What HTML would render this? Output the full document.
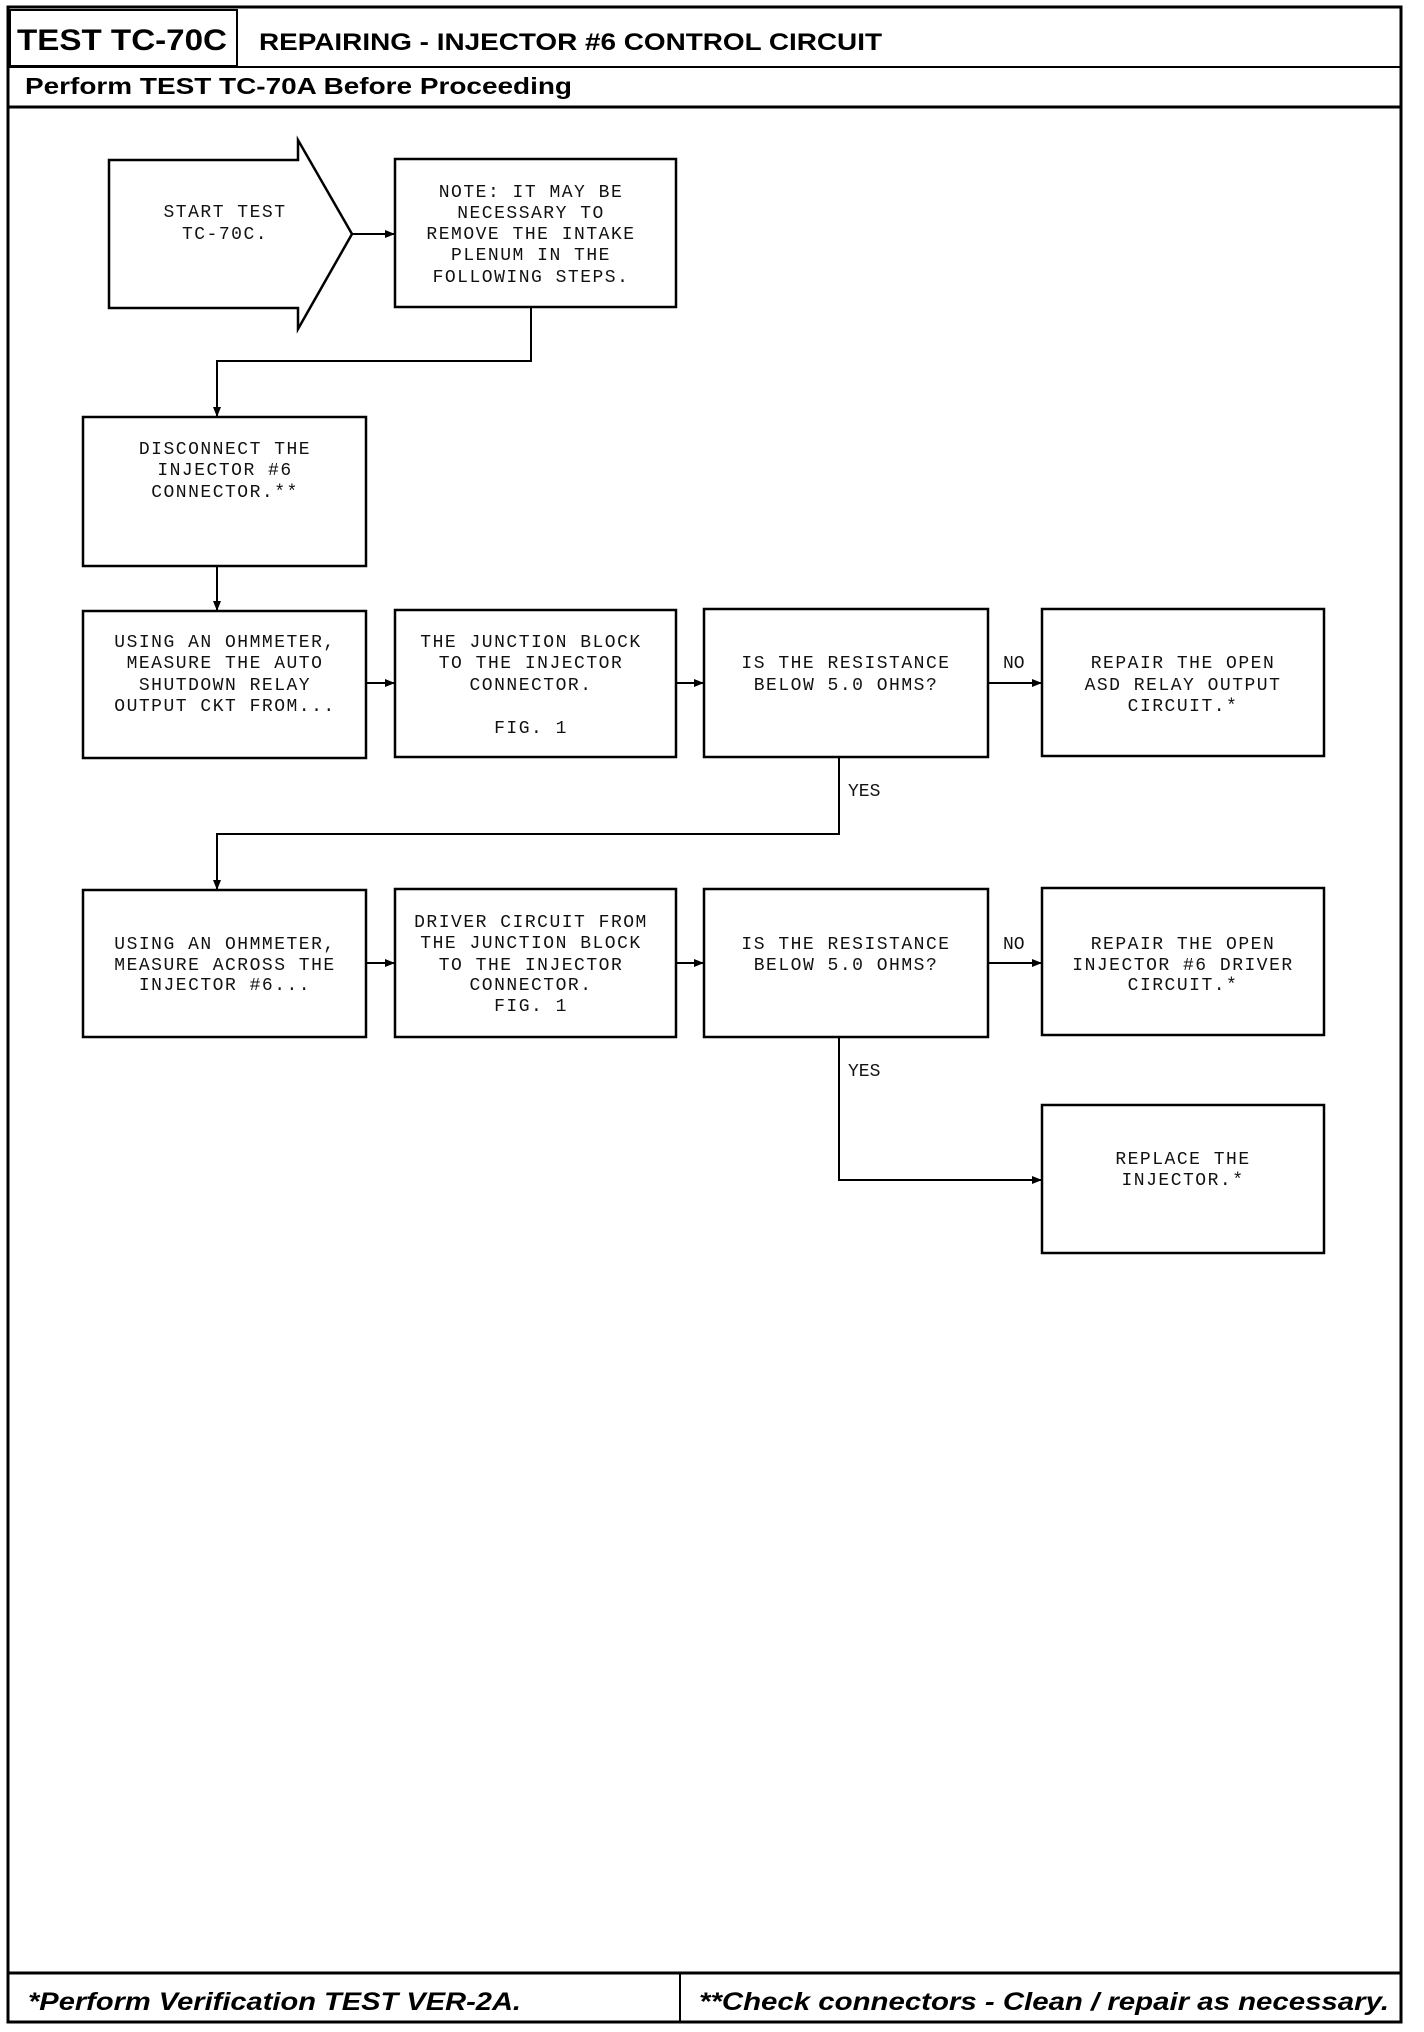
<!DOCTYPE html>
<html><head><meta charset="utf-8"><style>
html,body{margin:0;padding:0;background:#fff;}
svg{display:block;}
.b{font-family:"Liberation Sans",sans-serif;font-weight:bold;fill:#000;}
.m{font-family:"Liberation Mono",monospace;font-size:18px;fill:#111;text-anchor:middle;letter-spacing:1.5px;}
.l{font-family:"Liberation Mono",monospace;font-size:18px;fill:#111;}
</style></head><body>
<svg width="1424" height="2032" viewBox="0 0 1424 2032" xmlns="http://www.w3.org/2000/svg">
<defs><marker id="a" markerWidth="10" markerHeight="8" refX="9" refY="4" orient="auto" markerUnits="userSpaceOnUse"><path d="M0,0 L10,4 L0,8 z" fill="#000"/></marker></defs>
<g fill="none" stroke="#000">
<rect x="8" y="7" width="1393" height="2015" stroke-width="3"/>
<rect x="10" y="10" width="227" height="56" stroke-width="2"/>
<line x1="8" y1="67" x2="1401" y2="67" stroke-width="2"/>
<line x1="8" y1="107" x2="1401" y2="107" stroke-width="3"/>
<line x1="8" y1="1973" x2="1401" y2="1973" stroke-width="3"/>
<line x1="680" y1="1973" x2="680" y2="2022" stroke-width="2"/>
<polygon points="109,160 298,160 298,140 352,234 298,329 298,308 109,308" stroke-width="2.5"/>
<rect x="395" y="159" width="281" height="148" stroke-width="2.5"/>
<rect x="83" y="417" width="283" height="149" stroke-width="2.5"/>
<rect x="83" y="611" width="283" height="147" stroke-width="2.5"/>
<rect x="395" y="610" width="281" height="147" stroke-width="2.5"/>
<rect x="704" y="609" width="284" height="148" stroke-width="2.5"/>
<rect x="1042" y="609" width="282" height="147" stroke-width="2.5"/>
<rect x="83" y="890" width="283" height="147" stroke-width="2.5"/>
<rect x="395" y="889" width="281" height="148" stroke-width="2.5"/>
<rect x="704" y="889" width="284" height="148" stroke-width="2.5"/>
<rect x="1042" y="888" width="282" height="147" stroke-width="2.5"/>
<rect x="1042" y="1105" width="282" height="148" stroke-width="2.5"/>
<g stroke-width="2">
<line x1="352" y1="234" x2="394" y2="234" marker-end="url(#a)"/>
<polyline points="531,307 531,361 217,361 217,416" marker-end="url(#a)"/>
<line x1="217" y1="566" x2="217" y2="610" marker-end="url(#a)"/>
<line x1="366" y1="683" x2="394" y2="683" marker-end="url(#a)"/>
<line x1="676" y1="683" x2="703" y2="683" marker-end="url(#a)"/>
<line x1="988" y1="683" x2="1041" y2="683" marker-end="url(#a)"/>
<polyline points="839,757 839,834 217,834 217,889" marker-end="url(#a)"/>
<line x1="366" y1="963" x2="394" y2="963" marker-end="url(#a)"/>
<line x1="676" y1="963" x2="703" y2="963" marker-end="url(#a)"/>
<line x1="988" y1="963" x2="1041" y2="963" marker-end="url(#a)"/>
<polyline points="839,1037 839,1180 1041,1180" marker-end="url(#a)"/>
</g>
</g>
<text class="b" x="17" y="50" font-size="30" textLength="210" lengthAdjust="spacingAndGlyphs">TEST TC-70C</text>
<text class="b" x="259" y="50" font-size="24" textLength="623" lengthAdjust="spacingAndGlyphs">REPAIRING - INJECTOR #6 CONTROL CIRCUIT</text>
<text class="b" x="25" y="94" font-size="23" textLength="547" lengthAdjust="spacingAndGlyphs">Perform TEST TC-70A Before Proceeding</text>
<text class="b" x="28" y="2010" font-size="25" font-style="italic" textLength="493" lengthAdjust="spacingAndGlyphs">*Perform Verification TEST VER-2A.</text>
<text class="b" x="699" y="2010" font-size="25" font-style="italic" textLength="690" lengthAdjust="spacingAndGlyphs">**Check connectors - Clean / repair as necessary.</text>
<g class="m">
<text x="225" y="217">START TEST</text><text x="225" y="239">TC-70C.</text>
<text x="531" y="197">NOTE: IT MAY BE</text><text x="531" y="218">NECESSARY TO</text><text x="531" y="239">REMOVE THE INTAKE</text><text x="531" y="260">PLENUM IN THE</text><text x="531" y="282">FOLLOWING STEPS.</text>
<text x="225" y="454">DISCONNECT THE</text><text x="225" y="475">INJECTOR #6</text><text x="225" y="497">CONNECTOR.**</text>
<text x="225" y="647">USING AN OHMMETER,</text><text x="225" y="668">MEASURE THE AUTO</text><text x="225" y="690">SHUTDOWN RELAY</text><text x="225" y="711">OUTPUT CKT FROM...</text>
<text x="531" y="647">THE JUNCTION BLOCK</text><text x="531" y="668">TO THE INJECTOR</text><text x="531" y="690">CONNECTOR.</text><text x="531" y="733">FIG. 1</text>
<text x="846" y="668">IS THE RESISTANCE</text><text x="846" y="690">BELOW 5.0 OHMS?</text>
<text x="1183" y="668">REPAIR THE OPEN</text><text x="1183" y="690">ASD RELAY OUTPUT</text><text x="1183" y="711">CIRCUIT.*</text>
<text x="225" y="949">USING AN OHMMETER,</text><text x="225" y="970">MEASURE ACROSS THE</text><text x="225" y="990">INJECTOR #6...</text>
<text x="531" y="927">DRIVER CIRCUIT FROM</text><text x="531" y="948">THE JUNCTION BLOCK</text><text x="531" y="970">TO THE INJECTOR</text><text x="531" y="990">CONNECTOR.</text><text x="531" y="1011">FIG. 1</text>
<text x="846" y="949">IS THE RESISTANCE</text><text x="846" y="970">BELOW 5.0 OHMS?</text>
<text x="1183" y="949">REPAIR THE OPEN</text><text x="1183" y="970">INJECTOR #6 DRIVER</text><text x="1183" y="990">CIRCUIT.*</text>
<text x="1183" y="1164">REPLACE THE</text><text x="1183" y="1185">INJECTOR.*</text>
</g>
<text class="l" x="1003" y="668">NO</text>
<text class="l" x="1003" y="949">NO</text>
<text class="l" x="848" y="796">YES</text>
<text class="l" x="848" y="1076">YES</text>
</svg>
</body></html>
